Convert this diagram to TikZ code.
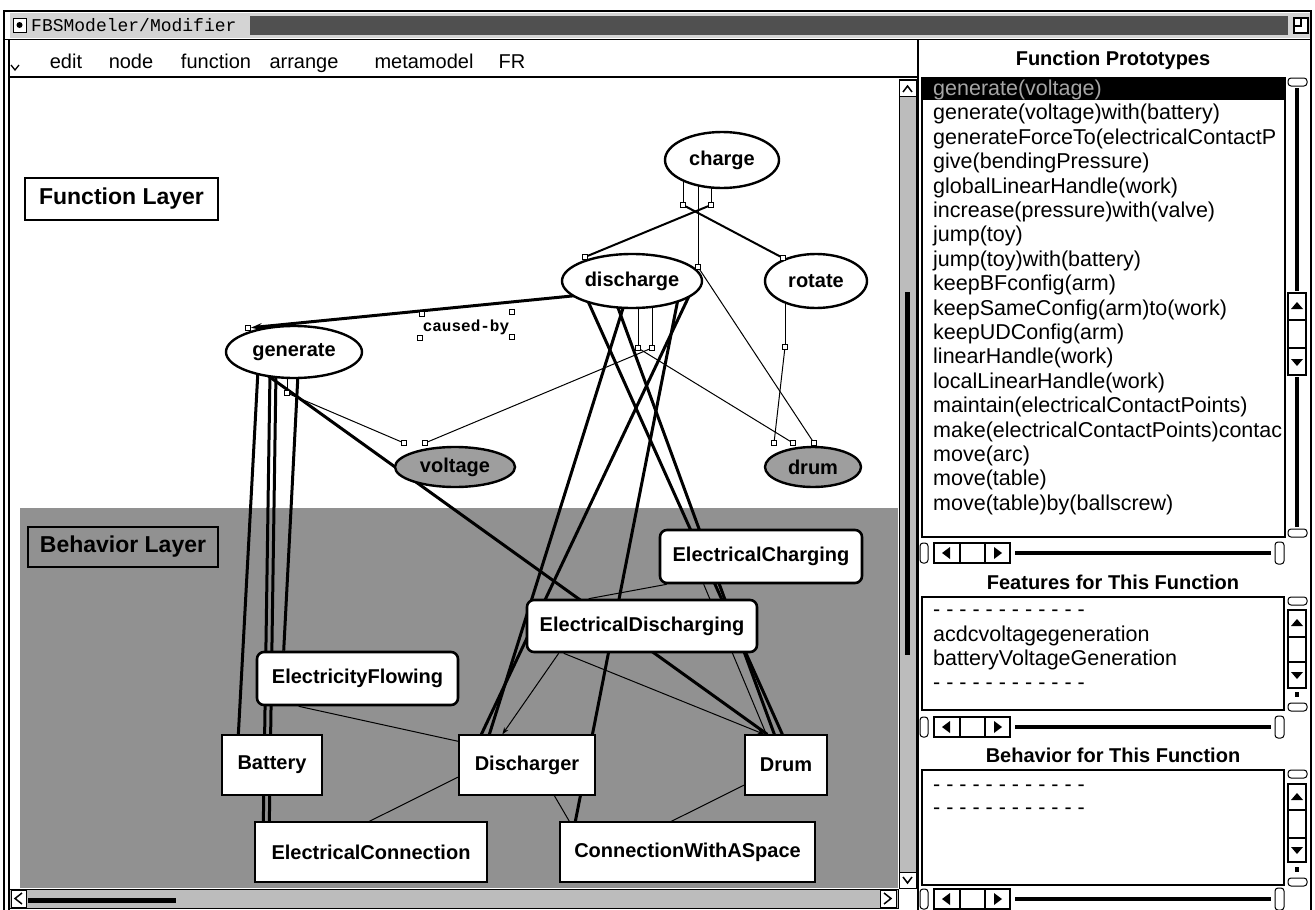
\documentclass[tikz,border=0pt]{standalone}
\usepackage{fontspec}
\setmainfont{Liberation Sans}
\newfontfamily\monofont{Liberation Mono}
\usetikzlibrary{shapes.geometric,arrows.meta,calc}

\pgfdeclarelayer{canvasbg}
\pgfdeclarelayer{links}
\pgfsetlayers{canvasbg,links,main}

\definecolor{layergray}{RGB}{145,145,145}
\definecolor{valuegray}{RGB}{158,158,158}
\definecolor{barlight}{RGB}{212,212,212}
\definecolor{bardark}{RGB}{80,80,80}
\definecolor{trackgray}{RGB}{188,188,188}
\definecolor{selgray}{RGB}{165,165,165}

% horizontal scroll bar of a side panel, centred on height #1
\newcommand{\panelhscroll}[1]{%
  \draw[line width=1pt, rounded corners=3pt, fill=white] (920,{#1-10}) rectangle (928,{#1+10});
  \draw[line width=1.2pt, fill=white] (934,{#1-10}) rectangle (1010,{#1+10});
  \draw[line width=1.2pt] (960,{#1-10}) -- (960,{#1+10}) (985,{#1-10}) -- (985,{#1+10});
  \fill (942,#1) -- (950,{#1-6}) -- (950,{#1+6}) -- cycle;
  \fill (1002,#1) -- (994,{#1-6}) -- (994,{#1+6}) -- cycle;
  \draw[line width=4pt] (1015,#1) -- (1271,#1);
  \draw[line width=1pt, rounded corners=3pt, fill=white] (1275,{#1-11}) rectangle (1284,{#1+11});
}
% arrow glyphs and end caps of a vertical panel scroll bar at x = 1297
\newcommand{\fbsuptri}[1]{\fill (1297,{#1-4}) -- (1291,{#1+3}) -- (1303,{#1+3}) -- cycle;}
\newcommand{\fbsdowntri}[1]{\fill (1297,{#1+4}) -- (1291,{#1-3}) -- (1303,{#1-3}) -- cycle;}
\newcommand{\fbscap}[1]{\draw[line width=1pt, rounded corners=3pt, fill=white] (1288,{#1-4}) rectangle (1307,{#1+4});}

\begin{document}
\begin{tikzpicture}[x=1pt, y=-1pt,
  funcnode/.style={ellipse, draw, line width=2.4pt, fill=white, inner sep=0pt,
    font=\fontsize{20}{24}\selectfont\bfseries},
  behround/.style={rectangle, rounded corners=7pt, draw, line width=2.6pt, fill=white,
    inner sep=0pt, font=\fontsize{20}{24}\selectfont\bfseries},
  behbox/.style={rectangle, draw, line width=1.3pt, fill=white, inner sep=0pt,
    font=\fontsize{20}{24}\selectfont\bfseries},
  layerlabel/.style={rectangle, draw, line width=1.2pt, inner sep=0pt,
    font=\fontsize{23}{27}\selectfont\bfseries},
  handle/.style={rectangle, draw, line width=0.8pt, fill=white, minimum size=5pt, inner sep=0pt},
  heavy/.style={line width=3pt},
  medium/.style={line width=2pt},
  fine/.style={line width=1pt},
  menuitem/.style={font=\fontsize{20}{23}\selectfont, inner sep=0pt, anchor=base},
  listitem/.style={font=\fontsize{21.5}{24}\selectfont, inner sep=0pt, anchor=base west},
  panelhead/.style={font=\fontsize{20}{24}\selectfont\bfseries, inner sep=0pt, anchor=base},
]
\useasboundingbox (0,0) rectangle (1315,910);

% ---------- page and canvas backgrounds ----------
\begin{pgfonlayer}{canvasbg}
  \fill[white] (0,0) rectangle (1315,910);
  \fill[layergray] (20,508) rectangle (898,888);
\end{pgfonlayer}

% ---------- window title bar ----------
\fill[barlight] (10,13) rectangle (1310,38);
\fill[bardark] (250,16) rectangle (1288,35);
\draw[line width=2pt] (3,11) -- (1312,11);
\draw[line width=1pt] (3,39) -- (1312,39);
\draw[line width=1pt, fill=white] (13,18) rectangle (26,32);
\fill (19.5,25) circle (3pt);
\node[anchor=west, font=\monofont\fontsize{18}{20}\selectfont, inner sep=0pt] (wintitle) at (31,25) {FBSModeler/Modifier};
\draw[line width=1.2pt, fill=white] (1294,18) rectangle (1308,33);
\draw[line width=1.2pt] (1294,26) -- (1301,26) -- (1301,18);

% window frame
\draw[line width=1.2pt] (4,11) -- (4,910);
\draw[line width=1.2pt] (9,39) -- (9,910);
\draw[line width=1.2pt] (1311,11) -- (1311,910);

% ---------- menu bar ----------
\draw[line width=1.5pt] (9,77) -- (918,77);
\draw[line width=1.2pt] (918,39) -- (918,910);
\draw[line width=1.3pt] (11,65) -- (15,70) -- (19,65);
\node[menuitem] (menuedit) at (66,68) {edit};
\node[menuitem] (menunode) at (131,68) {node};
\node[menuitem] (menufunction) at (216,68) {function};
\node[menuitem] (menuarrange) at (304,68) {arrange};
\node[menuitem] (menumeta) at (424,68) {metamodel};
\node[menuitem] (menufr) at (512,68) {FR};

% ---------- canvas scroll bars ----------
\fill[trackgray] (899,79) rectangle (916,888);
\draw[line width=1pt] (899,79) rectangle (916,888);
\draw[line width=1pt, fill=white] (899,80) rectangle (916,96);
\draw[line width=1.5pt] (903,92) -- (907.5,86) -- (912,92);
\draw[line width=1pt, fill=white] (899,872) rectangle (916,888);
\draw[line width=1.5pt] (903,877) -- (907.5,883) -- (912,877);
\draw[line width=5pt] (907.5,292) -- (907.5,655);

\fill[trackgray] (9,889) rectangle (898,908);
\draw[line width=1pt] (9,889) rectangle (898,908);
\draw[line width=1pt, fill=white] (11,890) rectangle (26,907);
\draw[line width=1.5pt] (22,893) -- (15,898.5) -- (22,904);
\draw[line width=5pt] (28,900) -- (176,900);
\draw[line width=1pt, fill=white] (880,890) rectangle (896,907);
\draw[line width=1.5pt] (884,893) -- (891,898.5) -- (884,904);

% ---------- layer labels ----------
\node[layerlabel, fill=white, minimum width=193pt, minimum height=42pt] (fnlayer) at (121.5,199) {Function Layer};
\node[layerlabel, fill=layergray, minimum width=190pt, minimum height=40pt] (bhlayer) at (123,547) {Behavior Layer};

% ---------- function layer ----------
\node[funcnode, minimum width=114pt, minimum height=56pt] (charge) at (722,160) {charge};
\node[funcnode, minimum width=140pt, minimum height=54pt] (discharge) at (632,281) {discharge};
\node[funcnode, minimum width=102pt, minimum height=54pt] (rotate) at (816,281) {rotate};
\node[funcnode, minimum width=136pt, minimum height=52pt] (generate) at (294,352) {generate};
\node[funcnode, fill=valuegray, minimum width=120pt, minimum height=40pt] (voltage) at (455,467) {voltage};
\node[funcnode, fill=valuegray, minimum width=96pt, minimum height=40pt] (drumfn) at (813,467) {drum};

\node[font=\monofont\bfseries\fontsize{16}{18}\selectfont, inner sep=0pt] (causedby) at (466,327) {caused-by};

% link handles
\node[handle] (hcl) at (683,205) {};
\node[handle] (hcr) at (711,205) {};
\node[handle] (hdtl) at (585,257) {};
\node[handle] (hrtl) at (783,258) {};
\node[handle] (hcm) at (698,267) {};
\node[handle] (hca) at (422,314) {};
\node[handle] (hcb) at (512,312) {};
\node[handle] (hcc) at (420,338) {};
\node[handle] (hcd) at (512,337) {};
\node[handle] (hgen) at (248,328) {};
\node[handle] (hgv) at (287,393) {};
\node[handle] (hdd) at (638,348) {};
\node[handle] (hdv) at (652,348) {};
\node[handle] (hrot) at (785,347) {};
\node[handle] (hv1) at (404,443) {};
\node[handle] (hv2) at (425,443) {};
\node[handle] (hd1) at (774,443) {};
\node[handle] (hd2) at (793,443) {};
\node[handle] (hd3) at (814,443) {};

% ---------- behavior layer ----------
\node[behround, minimum width=202pt, minimum height=53pt] (elcharging) at (761,556.5) {ElectricalCharging};
\node[behround, minimum width=230pt, minimum height=52pt] (eldischarging) at (642,626) {ElectricalDischarging};
\node[behround, minimum width=201pt, minimum height=53pt] (elflowing) at (357.5,678.5) {ElectricityFlowing};
\node[behbox, minimum width=100pt, minimum height=60pt] (battery) at (272,765) {Battery};
\node[behbox, minimum width=136pt, minimum height=60pt] (discharger) at (527,765) {Discharger};
\node[behbox, minimum width=82pt, minimum height=60pt] (drumbeh) at (786,765) {Drum};
\node[behbox, minimum width=232pt, minimum height=60pt] (elconn) at (371,852) {ElectricalConnection};
\node[behbox, minimum width=255pt, minimum height=60pt] (spaceconn) at (687.5,852) {ConnectionWithASpace};

% ---------- connectors (drawn beneath the nodes) ----------
\begin{pgfonlayer}{links}
  % links inside the function layer
  \draw[fine] ($(charge)+(-39,10)$) -- (hcl);
  \draw[fine] ($(charge)+(-11,10)$) -- (hcr);
  \draw[fine] ($(charge)+(-24,10)$) -- (hcm);
  \draw[medium] (hcr) -- (hdtl);
  \draw[medium] (hcl) -- (hrtl);
  \draw[fine] (hcm) -- (hd3);
  \draw[fine] ($(rotate)+(-31,10)$) -- (hrot);
  \draw[fine] (hrot) -- (hd1);
  \draw[fine] ($(discharge)+(20,10)$) -- (hdv);
  \draw[fine] ($(discharge)+(6,10)$) -- (hdd);
  \draw[fine] (hdv) -- (hv2);
  \draw[fine] (hdd) -- (hd2);
  \draw[fine] ($(generate)+(-7,10)$) -- (hgv);
  \draw[fine] (hgv) -- (hv1);
  \draw[heavy, -{Stealth[length=11pt,width=7pt]}] ($(discharge)+(-50,14)$) -- (hgen);

  % function to behavior links
  \draw[heavy] ($(generate)+(-36,18)$) -- ($(battery.north west)+(17,0)$);
  \draw[heavy] ($(generate)+(-24,20)$) -- ($(elconn.north west)+(9,0)$);
  \draw[heavy] ($(generate)+(-18,20)$) -- ($(elconn.north west)+(15,0)$);
  \draw[heavy] ($(generate)+(4,22)$) -- ($(elflowing.north west)+(28,0)$);
  \draw[heavy] ($(generate)+(-34,18)$) -- ($(drumbeh.north west)+(23,0)$);
  \draw[heavy] ($(discharge)+(-45,18)$) -- ($(drumbeh.north west)+(38,0)$);
  \draw[heavy] ($(discharge)+(-15,24)$) -- ($(drumbeh.north west)+(30,0)$);
  \draw[heavy] ($(discharge)+(-8,24)$) -- ($(discharger.north west)+(31,0)$);
  \draw[heavy] ($(discharge)+(58,13)$) -- ($(discharger.north west)+(23,0)$);
  \draw[heavy] ($(discharge)+(46,18)$) -- ($(spaceconn.north west)+(16,0)$);

  % links inside the behavior layer
  \draw[fine] ($(elcharging.south west)+(8,0)$) -- ($(eldischarging.north west)+(63,0)$);
  \draw[fine, -{Stealth[length=7pt,width=5pt]}] ($(eldischarging.south west)+(33,0)$) -- ($(discharger.north west)+(44,0)$);
  \draw[fine, -{Stealth[length=7pt,width=5pt]}] ($(eldischarging.south west)+(38,0)$) -- ($(drumbeh.north west)+(20,0)$);
  \draw[fine] ($(elcharging.south west)+(45,0)$) -- ($(drumbeh.north west)+(22,0)$);
  \draw[fine] ($(elflowing.south west)+(43,0)$) -- ($(discharger.north west)+(0,7)$);
  \draw[fine] ($(elconn.north west)+(115,0)$) -- ($(discharger.west)+(0,12)$);
  \draw[fine] ($(discharger.south west)+(96,0)$) -- ($(spaceconn.north west)+(10,0)$);
  \draw[fine] ($(drumbeh.west)+(0,20)$) -- ($(spaceconn.north west)+(112,0)$);
\end{pgfonlayer}

% ---------- side panel: function prototypes ----------
\node[panelhead] (hdrproto) at (1113,65) {Function Prototypes};
\fill (923,79) rectangle (1284,100);
\begin{scope}
  \clip (923,79) rectangle (1284,536);
  \node[listitem, text=selgray] (proto0) at (933,95.5) {generate(voltage)};
  \foreach \entry [count=\k] in {generate(voltage)with(battery), generateForceTo(electricalContactP,
      give(bendingPressure), globalLinearHandle(work), increase(pressure)with(valve), jump(toy),
      jump(toy)with(battery), keepBFconfig(arm), keepSameConfig(arm)to(work), keepUDConfig(arm),
      linearHandle(work), localLinearHandle(work), maintain(electricalContactPoints),
      make(electricalContactPoints)contac, move(arc), move(table), move(table)by(ballscrew)}
    \node[listitem] (proto\k) at (933,{95.5+24.4*\k}) {\entry};
\end{scope}
\draw[line width=1.2pt] (922,78) rectangle (1285,537);
\fbscap{82}
\draw[line width=4pt] (1297,88) -- (1297,291);
\draw[line width=1.2pt, fill=white] (1288,293) rectangle (1306,375);
\draw[line width=1.2pt] (1288,320) -- (1306,320) (1288,348) -- (1306,348);
\fbsuptri{306}
\fbsdowntri{362}
\draw[line width=4pt] (1297,377) -- (1297,527);
\fbscap{533}
\panelhscroll{553}

% ---------- side panel: features ----------
\node[panelhead] (hdrfeat) at (1113,589) {Features for This Function};
\draw[line width=1.2pt] (922,597) rectangle (1284,710);
\node[listitem] (featdashA) at (933,616) {- - - - - - - - - - - -};
\node[listitem] (featA) at (933,641) {acdcvoltagegeneration};
\node[listitem] (featB) at (933,665) {batteryVoltageGeneration};
\node[listitem] (featdashB) at (933,689) {- - - - - - - - - - - -};
\fbscap{601}
\draw[line width=1.2pt, fill=white] (1288,610) rectangle (1306,688);
\draw[line width=1.2pt] (1288,637) -- (1306,637) (1288,662) -- (1306,662);
\fbsuptri{623}
\fbsdowntri{675}
\fill (1295,692) rectangle (1299,697);
\fbscap{707}
\panelhscroll{727}

% ---------- side panel: behavior ----------
\node[panelhead] (hdrbeh) at (1113,762) {Behavior for This Function};
\draw[line width=1.2pt] (922,770) rectangle (1284,885);
\node[listitem] (behdashA) at (933,791) {- - - - - - - - - - - -};
\node[listitem] (behdashB) at (933,814) {- - - - - - - - - - - -};
\fbscap{774}
\draw[line width=1.2pt, fill=white] (1288,784) rectangle (1306,862);
\draw[line width=1.2pt] (1288,810) -- (1306,810) (1288,838) -- (1306,838);
\fbsuptri{797}
\fbsdowntri{850}
\fill (1295,867) rectangle (1299,872);
\fbscap{882}
\panelhscroll{899}
\end{tikzpicture}
\end{document}
